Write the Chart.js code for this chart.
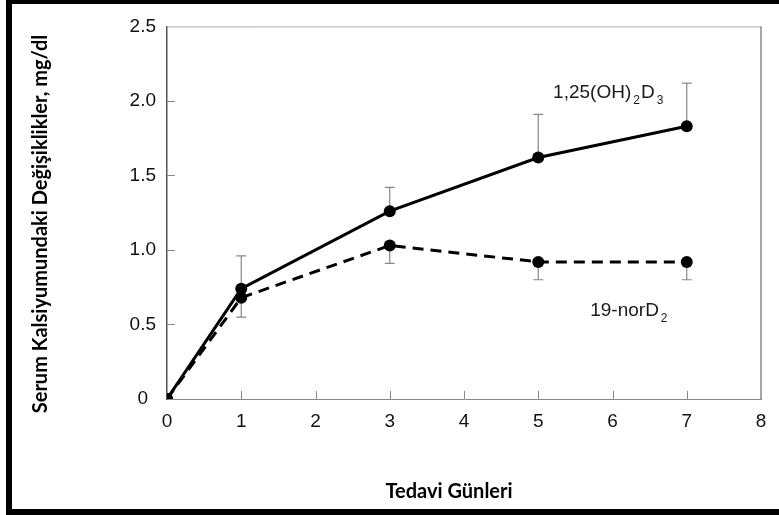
<!DOCTYPE html>
<html>
<head>
<meta charset="utf-8">
<script src="https://cdn.jsdelivr.net/npm/chart.js@4.4.1/dist/chart.umd.min.js"></script>
<style>
  html, body { margin: 0; padding: 0; background: #fff; }
  #frame { position: absolute; left: 6px; top: 0; width: 773px; height: 515px; background: #000; }
  #wrap { position: absolute; left: 12px; top: 4px; width: 767px; height: 505px; background: #fff; }
</style>
</head>
<body>
<div id="frame"></div>
<div id="wrap"><canvas id="myChart" width="767" height="505"></canvas></div>
<script>
// days of treatment
const days = [0, 1, 3, 5, 7];
// 1,25(OH)2D3 mean change and upper error bar end
const calcitriol = [0, 0.74, 1.26, 1.62, 1.83];
const calcitriolUpper = [null, 0.96, 1.42, 1.91, 2.12];
// 19-norD2 mean change and lower error bar end
const norD2 = [0, 0.68, 1.03, 0.92, 0.92];
const norD2Lower = [null, 0.55, 0.91, 0.80, 0.80];

const xTickLabels = ["0", "1", "2", "3", "4", "5", "6", "7", "8"];
const yTickLabels = ["0", "0.5", "1.0", "1.5", "2.0", "2.5"];

const yTitle = "Serum Kalsiyumundaki Değişiklikler, mg/dl";
const xTitle = "Tedavi Günleri";

function toPoints(values) {
    return days.map((d, i) => ({ x: d, y: values[i] }));
}

// error bars, inward ticks, frame, labels
const extras = {
    id: "extras",
    beforeDatasetsDraw(chart) {
        const { ctx, chartArea, scales } = chart;
        const xs = scales.x, ys = scales.y;
        ctx.save();
        // top and right frame
        ctx.strokeStyle = "#a8a8a8";
        ctx.lineWidth = 1;
        ctx.beginPath();
        ctx.moveTo(chartArea.left, chartArea.top + 0.5);
        ctx.lineTo(chartArea.right, chartArea.top + 0.5);
        ctx.stroke();
        ctx.strokeStyle = "#888";
        ctx.lineWidth = 1.5;
        ctx.beginPath();
        ctx.moveTo(chartArea.right, chartArea.top);
        ctx.lineTo(chartArea.right, chartArea.bottom);
        ctx.stroke();

        // inward tick marks
        ctx.strokeStyle = "#888";
        ctx.lineWidth = 1;
        xs.ticks.forEach((t) => {
            if (t.value <= 0 || t.value >= 8) return;
            const px = Math.round(xs.getPixelForValue(t.value)) + 0.5;
            ctx.beginPath();
            ctx.moveTo(px, chartArea.bottom);
            ctx.lineTo(px, chartArea.bottom - 8);
            ctx.stroke();
        });
        ys.ticks.forEach((t) => {
            if (t.value <= 0 || t.value >= 2.5) return;
            const py = Math.round(ys.getPixelForValue(t.value)) + 0.5;
            ctx.beginPath();
            ctx.moveTo(chartArea.left, py);
            ctx.lineTo(chartArea.left + 8, py);
            ctx.stroke();
        });

        // error bars
        ctx.strokeStyle = "#888";
        ctx.lineWidth = 1.2;
        const drawBar = (means, ends) => {
            days.forEach((d, i) => {
                if (ends[i] === null) return;
                const px = xs.getPixelForValue(d);
                const y0 = ys.getPixelForValue(means[i]);
                const y1 = ys.getPixelForValue(ends[i]);
                ctx.beginPath();
                ctx.moveTo(px, y0);
                ctx.lineTo(px, y1);
                ctx.moveTo(px - 5, y1);
                ctx.lineTo(px + 5, y1);
                ctx.stroke();
            });
        };
        drawBar(calcitriol, calcitriolUpper);
        drawBar(norD2, norD2Lower);
        ctx.restore();
    },
    afterDraw(chart) {
        const { ctx, scales } = chart;
        const xs = scales.x, ys = scales.y;
        ctx.save();
        ctx.fillStyle = "#1a1a1a";
        ctx.textBaseline = "alphabetic";
        ctx.textAlign = "left";

        // series labels with subscripts
        const label = (parts, xv, yv) => {
            let px = xs.getPixelForValue(xv);
            const py = ys.getPixelForValue(yv);
            parts.forEach((p) => {
                ctx.font = p.sub ? "12px 'Liberation Sans', Arial" : "19px 'Liberation Sans', Arial";
                ctx.fillText(p.t, px, py + (p.sub ? 6 : 0));
                px += ctx.measureText(p.t).width + (p.sub ? 1 : 2);
            });
        };
        label([{ t: "1,25(OH)" }, { t: "2", sub: true }, { t: "D" }, { t: "3", sub: true }], 5.2, 2.02);
        label([{ t: "19-norD" }, { t: "2", sub: true }], 5.7, 0.56);

        // axis titles
        ctx.fillStyle = "#000";
        ctx.font = "bold 20px Lato";
        ctx.textAlign = "center";
        ctx.textBaseline = "middle";
        ctx.fillText(xTitle, 437, 488);
        ctx.translate(29, 220);
        ctx.rotate(-Math.PI / 2);
        ctx.fillText(yTitle, 0, 0);
        ctx.restore();
    },
};

const ctx = document.getElementById("myChart").getContext("2d");
const myChart = new Chart(ctx, {
    type: "line",
    data: {
        datasets: [
            {
                label: "1,25(OH)2D3",
                data: toPoints(calcitriol),
                borderColor: "#000",
                backgroundColor: "#000",
                borderWidth: 3,
                pointRadius: 6,
                pointBackgroundColor: "#000",
                pointBorderWidth: 0,
                tension: 0,
            },
            {
                label: "19-norD2",
                data: toPoints(norD2),
                borderColor: "#000",
                backgroundColor: "#000",
                borderWidth: 3,
                borderDash: [11, 7],
                pointRadius: 6,
                pointBackgroundColor: "#000",
                pointBorderWidth: 0,
                tension: 0,
            },
        ],
    },
    options: {
        responsive: false,
        animation: false,
        layout: { padding: { top: 21, right: 18, left: 0, bottom: 0 } },
        plugins: {
            legend: { display: false },
            tooltip: { enabled: false },
        },
        scales: {
            x: {
                type: "linear",
                min: 0,
                max: 8,
                afterFit: (scale) => { scale.height = 110; },
                grid: { display: false, drawTicks: false },
                border: { display: true, color: "#888", width: 1 },
                ticks: {
                    stepSize: 1,
                    padding: 11,
                    color: "#111",
                    font: { family: "'Liberation Sans', Arial", size: 19 },
                    callback: (value, index) => xTickLabels[index],
                },
            },
            y: {
                min: 0,
                max: 2.5,
                afterFit: (scale) => { scale.width = 155; },
                grid: { display: false, drawTicks: false },
                border: { display: true, color: "#555", width: 1.5 },
                ticks: {
                    stepSize: 0.5,
                    padding: 11,
                    crossAlign: "center",
                    color: "#111",
                    font: { family: "'Liberation Sans', Arial", size: 19 },
                    callback: (value, index) => yTickLabels[index],
                },
            },
        },
    },
    plugins: [extras],
});
</script>
</body>
</html>
